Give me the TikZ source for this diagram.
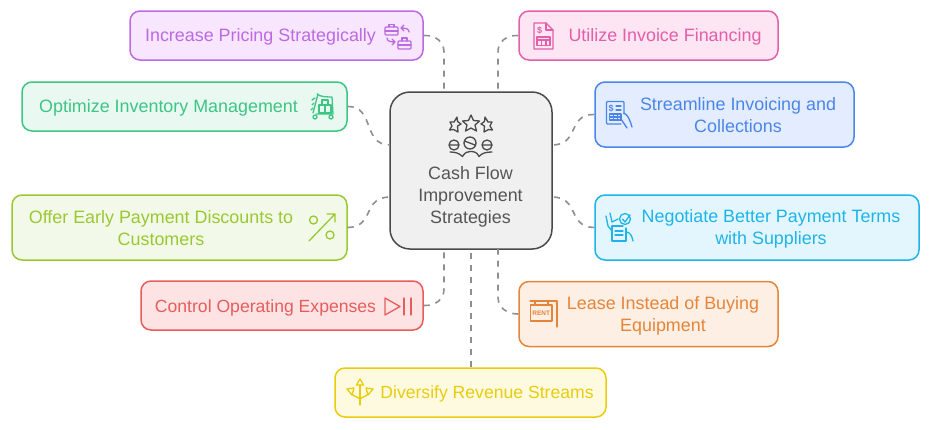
\documentclass[tikz,border=0pt]{standalone}
\usepackage{fontspec}
\setmainfont{Liberation Sans}
\definecolor{cP}{HTML}{BC6AE3}\definecolor{fP}{HTML}{F8E6FE}
\definecolor{cK}{HTML}{E25FA9}\definecolor{fK}{HTML}{FDE5F3}
\definecolor{cG}{HTML}{3DC584}\definecolor{fG}{HTML}{E9F9F2}
\definecolor{cB}{HTML}{4A86E8}\definecolor{fB}{HTML}{E3EDFF}
\definecolor{cL}{HTML}{9BC832}\definecolor{fL}{HTML}{F2F9E8}
\definecolor{cC}{HTML}{1EB4EA}\definecolor{fC}{HTML}{E3F6FE}
\definecolor{cR}{HTML}{E85C5C}\definecolor{fR}{HTML}{FDE3E3}
\definecolor{cO}{HTML}{E5853A}\definecolor{fO}{HTML}{FDEFE3}
\definecolor{cY}{HTML}{E9CC0C}\definecolor{fY}{HTML}{FEFAE0}
\definecolor{cM}{HTML}{4A4A4A}\definecolor{fM}{HTML}{F0F0F0}
\definecolor{tM}{HTML}{555555}\definecolor{cD}{HTML}{8F8F8F}
\tikzset{
  card/.style={draw=c#1,fill=f#1,line width=1.5pt,rounded corners=10pt,inner sep=0pt},
  lab/.style={text=c#1,align=center,font=\fontsize{17.9}{22}\selectfont,inner sep=0pt},
  labs/.style={text=c#1,align=center,font=\fontsize{17.6}{22}\selectfont,inner sep=0pt},
  link/.style={draw=cD,line width=1.6pt,dash pattern=on 6pt off 6pt},
  icon/.style={draw=c#1,line width=1.3pt,line cap=round,line join=round},
}
\begin{document}
\begin{tikzpicture}[x=1pt,y=-1pt]
\useasboundingbox (0,0) rectangle (931,429);
% centre
\node[draw=cM,fill=fM,line width=1.5pt,rounded corners=20pt,inner sep=0pt,minimum width=162pt,minimum height=157pt] (hub) at (471,170.5) {};
\coordinate (t1) at (444,92);\coordinate (t2) at (498,92);
\coordinate (b1) at (444,249);\coordinate (b2) at (498,249);\coordinate (b3) at (471,249);
\coordinate (l1) at (390,145);\coordinate (l2) at (390,197);
\coordinate (r1) at (552,145);\coordinate (r2) at (552,197);
% cards
\node[card=P,minimum width=293pt,minimum height=49pt] (pur) at (276.5,35.5) {};
\node[card=K,minimum width=259pt,minimum height=49pt] (pnk) at (648.5,35.5) {};
\node[card=G,minimum width=325pt,minimum height=49pt] (grn) at (184.5,106.5) {};
\node[card=B,minimum width=259pt,minimum height=65pt] (blu) at (724.5,114.5) {};
\node[card=L,minimum width=335pt,minimum height=65pt] (lim) at (179.5,227.5) {};
\node[card=C,minimum width=324pt,minimum height=65pt] (cya) at (757,227.5) {};
\node[card=R,minimum width=282pt,minimum height=49pt] (red) at (282,305.5) {};
\node[card=O,minimum width=259pt,minimum height=65pt] (org) at (648.5,314) {};
\node[card=Y,minimum width=271pt,minimum height=49pt] (yel) at (470.5,392.5) {};
% connectors
\draw[link] (pur.east) .. controls (436,35) and (444,42) .. (444,52) -- (t1);
\draw[link] (pnk.west) .. controls (506,35) and (498,42) .. (498,52) -- (t2);
\draw[link] (grn.east) .. controls (375,106) and (362,145) .. (l1);
\draw[link] (blu.west) .. controls (567,114) and (580,145) .. (r1);
\draw[link] (lim.east) .. controls (375,227) and (362,197) .. (l2);
\draw[link] (cya.west) .. controls (567,227) and (580,197) .. (r2);
\draw[link] (red.east) .. controls (436,306) and (444,299) .. (444,289) -- (b1);
\draw[link] (org.west) .. controls (506,314) and (498,307) .. (498,297) -- (b2);
\draw[link] (yel.north -| b3) -- (b3);
% labels
\node[text=tM,align=center,font=\fontsize{17.9}{22}\selectfont,inner sep=0pt] (hubt) at (470.5,196.5) {Cash Flow\\Improvement\\Strategies};
\node[lab=P] (tp) at (260.5,37) {Increase Pricing Strategically};
\node[lab=K] (tk) at (665,37) {Utilize Invoice Financing};
\node[lab=G] (tg) at (168.5,108) {Optimize Inventory Management};
\node[lab=B] (tb) at (738,115) {Streamline Invoicing and\\Collections};
\node[lab=L] (tl) at (161,228) {Offer Early Payment Discounts to\\Customers};
\node[lab=C] (tc) at (771,229) {Negotiate Better Payment Terms\\with Suppliers};
\node[labs=R] (tr) at (265.5,307.5) {Control Operating Expenses};
\node[lab=O] (to) at (663,315.5) {Lease Instead of Buying\\Equipment};
\node[labs=Y] (ty) at (487,393.5) {Diversify Revenue Streams};
% hub icon
\begin{scope}[icon=M]
\draw (471,115) -- (473.5,120.5) -- (479.5,121) -- (475,125) -- (476.5,131) -- (471,128) -- (465.5,131) -- (467,125) -- (462.5,121) -- (468.5,120.5) -- cycle;
\draw (457,117) -- (457.5,121.5) -- (461,124) -- (457.5,126) -- (458,132) -- (453.5,129.5) -- (449.5,130) -- (452,126) -- (450,122) -- (454,122) -- cycle;
\draw (485,117) -- (484.5,121.5) -- (481,124) -- (484.5,126) -- (484,132) -- (488.5,129.5) -- (492.5,130) -- (490,126) -- (492,122) -- (488,122) -- cycle;
\draw (454,145) circle (5pt) (449,145) -- (459,145);
\draw (470,143) circle (6pt) (464.5,141) -- (475,145);
\draw (487,145) circle (5pt) (482,145) -- (492,145);
\draw (450,152) .. controls (455,152) and (459,153) .. (462.5,156.5) .. controls (465,152) and (468,151.5) .. (470.5,151.5) .. controls (474,151.5) and (477,152) .. (479,156.5) .. controls (482,153) and (486,152) .. (492,152);
\end{scope}
% purple icon
\begin{scope}[icon=P]
\draw[rounded corners=1pt] (385,27) rectangle (398,35);
\draw (389,27) -- (389,24.5) -- (394,24.5) -- (394,27) (385,31) -- (398,31);
\draw[rounded corners=1pt] (398,41) rectangle (411,49);
\draw (402,41) -- (402,38) -- (407,38) -- (407,41) (398,45) -- (411,45);
\draw (404,25) -- (401,28) -- (404,31) (401,28) .. controls (406,28) and (409,29) .. (409,32);
\draw (392,39) -- (395,42) -- (392,45) (395,42) .. controls (390,42) and (387,41) .. (387,38);
\end{scope}
% pink icon
\begin{scope}[icon=K]
\draw (534,23) -- (546,23) -- (553,30) -- (553,49) -- (534,49) -- cycle;
\draw (546,23) -- (546,30) -- (553,30);
\draw (537,37) rectangle (550,45.5) (537,40) -- (550,40) (541.5,40) -- (541.5,45.5) (546,40) -- (546,45.5);
\node[text=cK,inner sep=0pt,font=\fontsize{9}{9}\bfseries\selectfont] (pd) at (539.5,30.5) {\$};
\end{scope}
% green icon
\begin{scope}[icon=G]
\draw (317,94) .. controls (320,97) and (328,97) .. (332,97) -- (333,114) -- (316,114);
\draw (318,94) -- (313,113);
\draw (319,105) rectangle (331,113) (325,105) -- (325,113);
\draw (322,105) -- (322,100) -- (328,100) -- (328,105);
\draw (315,98) -- (312,100) (314,103) -- (312,105) (313,108) -- (311,110);
\draw (315,117) circle (2pt) (331,117) circle (2pt);
\end{scope}
% blue icon
\begin{scope}[icon=B]
\draw[rounded corners=1pt] (621,124) -- (606.5,124) -- (606.5,101.5) -- (624,101.5) -- (624,114);
\draw (609.5,114) rectangle (621,120) (609.5,117) -- (621,117) (613.5,114) -- (613.5,120) (617.5,114) -- (617.5,120);
\draw (616,106) -- (621,106) (616,110) -- (621,110);
\draw (621,119) -- (627,128) (624,113) .. controls (628,115) and (630,120) .. (632,127);
\node[text=cB,inner sep=0pt,font=\fontsize{9}{9}\bfseries\selectfont] (bd) at (611,108) {\$};
\end{scope}
% lime icon
\begin{scope}[icon=L]
\draw (313.5,220) circle (4pt) (330,235) circle (4pt);
\draw (309,241) -- (335,214) (327,214) -- (335,214) -- (335,222);
\end{scope}
% cyan icon
\begin{scope}[icon=C]
\draw (612,226) -- (612,241) -- (626,241) -- (626,228);
\draw (612,226) -- (623,226);
\draw (615,231) -- (623,231) (615,235) -- (623,235);
\draw (625,219) circle (5.5pt) (622.5,219) -- (625,222) -- (630,215);
\draw (606,216) -- (608,226) -- (612,231);
\draw (610,213) -- (612,222) -- (618,219);
\draw (626,232) .. controls (630,232) and (632,236) .. (633,241);
\end{scope}
% red icon
\begin{scope}[icon=R]
\draw (385,298) -- (400,306.5) -- (385,315) -- cycle;
\draw (404,298) -- (404,315) (411,298) -- (411,315);
\end{scope}
% orange icon
\begin{scope}[icon=O]
\draw (530,301) -- (557,301) -- (557,327);
\draw (535,301) -- (535,305) (548,301) -- (548,305);
\draw (530.5,305) rectangle (552,321);
\node[text=cO,inner sep=0pt,font=\fontsize{6.5}{7}\bfseries\selectfont] (rt) at (541.3,313.3) {RENT};
\end{scope}
% yellow icon
\begin{scope}[icon=Y]
\draw (360,405) -- (360,385);
\draw (360,379) -- (363.5,385) -- (356.5,385) -- cycle;
\draw (347,389) -- (354,388) -- (352,395) -- cycle;
\draw (373,389) -- (366,388) -- (368,395) -- cycle;
\draw (352,394) .. controls (355,398) and (360,396) .. (360,401);
\draw (368,394) .. controls (365,398) and (360,396) .. (360,401);
\end{scope}
\end{tikzpicture}
\end{document}
